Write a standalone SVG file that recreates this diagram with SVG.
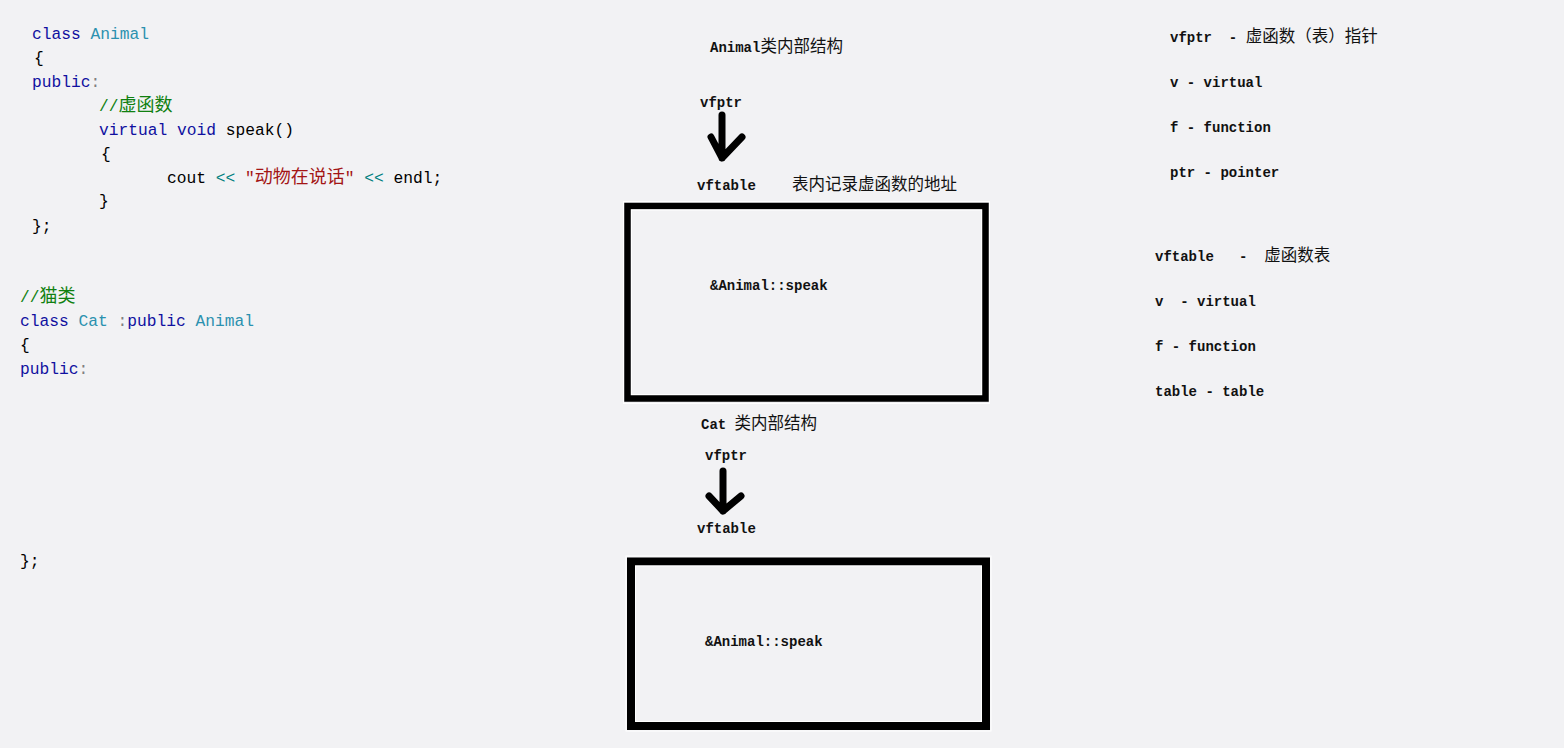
<svg xmlns="http://www.w3.org/2000/svg" width="1564" height="748" viewBox="0 0 1564 748">
<style>
text{white-space:pre}
.code{font-family:"Liberation Mono","Noto Sans CJK SC",monospace;font-size:16.25px;fill:#000}
.kw{fill:#1010a0}
.ty{fill:#2b91af}
.cm{fill:#108010}
.st{fill:#a31515}
.op{fill:#008080}
.pu{fill:#808080}
.cj{font-family:"Noto Sans CJK SC",sans-serif;font-size:18px}
.lab{font-family:"Liberation Mono","Noto Sans CJK SC",monospace;font-size:14px;font-weight:bold;fill:#111}
.lcj{font-family:"Noto Sans CJK SC",sans-serif;font-size:16.5px;font-weight:normal}
.box{fill:none;stroke:#000}
.edge{fill:none;stroke:#fff;stroke-width:1}
.arrow{fill:none;stroke:#000;stroke-width:7;stroke-linecap:round;stroke-linejoin:round}
</style>
<rect width="1564" height="748" fill="#f2f2f4"/>

<g id="code-animal" class="code">
<text x="32" y="39"><tspan class="kw">class</tspan> <tspan class="ty">Animal</tspan></text>
<text x="34" y="63">{</text>
<text x="32" y="87"><tspan class="kw">public</tspan><tspan class="pu">:</tspan></text>
<text x="99" y="111" class="cm">//<tspan class="cj">虚函数</tspan></text>
<text x="99" y="135"><tspan class="kw">virtual</tspan> <tspan class="kw">void</tspan> speak()</text>
<text x="101" y="159">{</text>
<text x="167" y="183">cout <tspan class="op">&lt;&lt;</tspan> <tspan class="st">"<tspan class="cj">动物在说话</tspan>"</tspan> <tspan class="op">&lt;&lt;</tspan> endl;</text>
<text x="99" y="206">}</text>
<text x="32" y="231">};</text>
</g>

<g id="code-cat" class="code">
<text x="20" y="302" class="cm">//<tspan class="cj">猫类</tspan></text>
<text x="20" y="326"><tspan class="kw">class</tspan> <tspan class="ty">Cat</tspan> <tspan class="pu">:</tspan><tspan class="kw">public</tspan> <tspan class="ty">Animal</tspan></text>
<text x="20" y="350">{</text>
<text x="20" y="374"><tspan class="kw">public</tspan><tspan class="pu">:</tspan></text>
<text x="20" y="566">};</text>
</g>

<g id="animal-title"><text class="lab" x="710" y="52">Animal<tspan class="lcj">类内部结构</tspan></text></g>
<g id="animal-vfptr"><text class="lab" x="700" y="107">vfptr</text></g>
<g id="animal-vftable"><text class="lab" x="697" y="190">vftable</text></g>
<g id="animal-note"><text class="lab" x="792" y="190"><tspan class="lcj">表内记录虚函数的地址</tspan></text></g>
<g id="animal-box">
<rect class="edge" x="623.5" y="201.5" width="366" height="202"/>
<rect class="box" x="627.5" y="206" width="358" height="192.5" stroke-width="6.5"/>
<rect class="edge" x="631.5" y="210" width="350" height="184.5"/>
<text class="lab" x="710" y="290">&amp;Animal::speak</text>
</g>

<g id="cat-title"><text class="lab" x="701" y="429">Cat <tspan class="lcj">类内部结构</tspan></text></g>
<g id="cat-vfptr"><text class="lab" x="705" y="460">vfptr</text></g>
<g id="cat-vftable"><text class="lab" x="697" y="533">vftable</text></g>
<g id="cat-box">
<rect class="edge" x="626" y="556" width="365" height="175"/>
<rect class="box" x="631" y="561.5" width="355" height="164.5" stroke-width="8"/>
<rect class="edge" x="635.5" y="566" width="346" height="155.5"/>
<text class="lab" x="705" y="646">&amp;Animal::speak</text>
</g>

<g id="legend">
<text class="lab" x="1170" y="42">vfptr  - <tspan class="lcj">虚函数（表）指针</tspan></text>
<text class="lab" x="1170" y="87">v - virtual</text>
<text class="lab" x="1170" y="132">f - function</text>
<text class="lab" x="1170" y="177">ptr - pointer</text>
<text class="lab" x="1155" y="261">vftable   -  <tspan class="lcj">虚函数表</tspan></text>
<text class="lab" x="1155" y="306">v  - virtual</text>
<text class="lab" x="1155" y="351">f - function</text>
<text class="lab" x="1155" y="396">table - table</text>
</g>

<g id="connectors">
<path class="arrow" d="M722,115 V158 M711,137 L722,158 L742,137"/>
<path class="arrow" d="M723,471 V511 M709,496 L723,511 L741,496"/>
</g>
</svg>
